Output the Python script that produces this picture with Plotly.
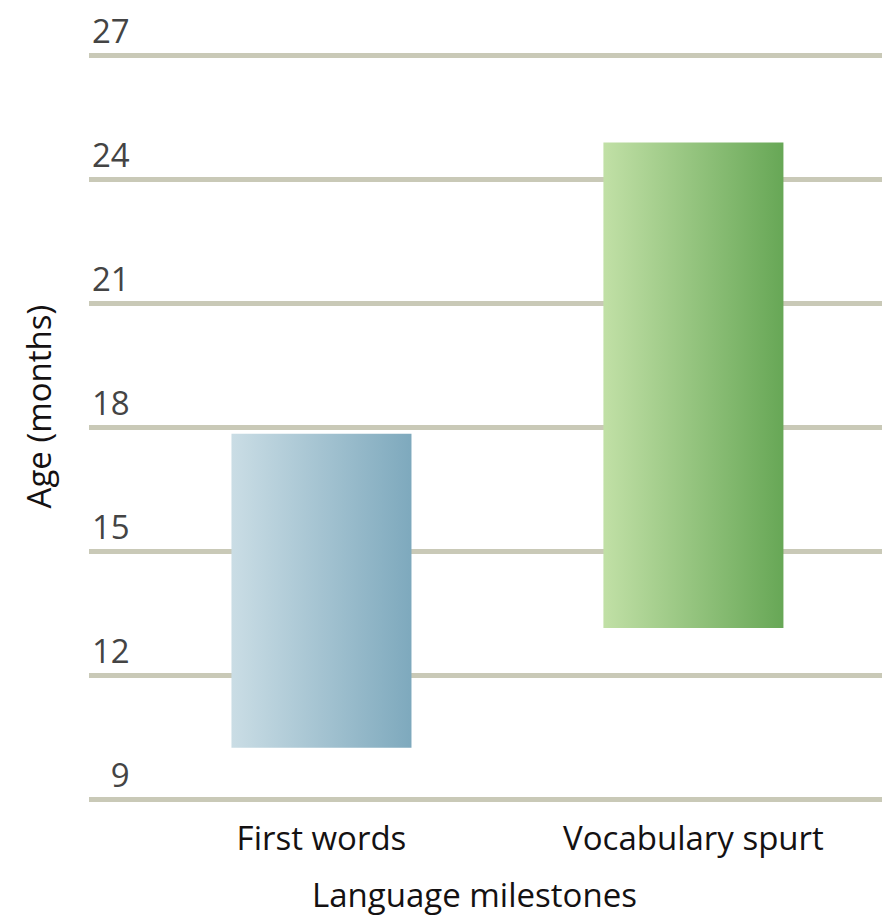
import plotly.graph_objects as go

# データ
milestones = ["First words", "Vocabulary spurt"]
age_from = [10.25, 13.15]
age_to = [17.85, 24.9]
y_ticks = [9, 12, 15, 18, 21, 24, 27]
y_ticktext = ["\u20079", "12", "15", "18", "21", "24", "27"]

# スタイル
BAR_GRADIENTS = [
    [[0, "#cadde5"], [1, "#7ea9bd"]],
    [[0, "#c1e0a6"], [1, "#67a756"]],
]
BAR_HALF_WIDTH = 0.242
FONT = dict(family="Open Sans", size=33, color="#141112")
GRID_COLOR = "#c9c9b7"

fig = go.Figure()

for i, name in enumerate(milestones):
    x0 = i - BAR_HALF_WIDTH
    x1 = i + BAR_HALF_WIDTH
    fig.add_trace(go.Scatter(
        x=[x0, x1, x1, x0, x0],
        y=[age_from[i], age_from[i], age_to[i], age_to[i], age_from[i]],
        mode="lines", line=dict(width=0), fill="toself",
        fillgradient=dict(type="horizontal", colorscale=BAR_GRADIENTS[i]),
        name=name, showlegend=False, hoverinfo="skip",
    ))

# 軸タイトル (中心から少しずれている)
fig.add_annotation(
    text="Age (months)", textangle=-90, showarrow=False,
    xref="paper", yref="paper", x=-0.064, y=0.522,
    xanchor="center", yanchor="middle", font=FONT,
)
fig.add_annotation(
    text="Language milestones", showarrow=False,
    xref="paper", yref="paper", x=0.486, y=-0.1,
    xanchor="center", yanchor="middle", font=FONT,
)

fig.update_layout(
    width=882, height=918,
    margin=dict(l=89, r=0, t=31, b=102),
    paper_bgcolor="white", plot_bgcolor="white",
    font=FONT,
    xaxis=dict(
        range=[-0.625, 1.507], tickvals=[0, 1], ticktext=milestones,
        showgrid=False, zeroline=False, showline=False, ticks="",
    ),
    yaxis=dict(
        range=[8.6, 27.6], tickvals=y_ticks, ticktext=y_ticktext,
        showgrid=True, gridcolor=GRID_COLOR, gridwidth=5,
        zeroline=False, showline=False, ticks="",
        ticklabelposition="inside", ticklabelshift=-24, ticklabelstandoff=0,
        ticklabeloverflow="allow",
    ),
)

fig.write_html(
    "out.html",
    config={"displayModeBar": False},
    post_script="document.body.style.margin='0';document.body.style.overflow='hidden';",
)
